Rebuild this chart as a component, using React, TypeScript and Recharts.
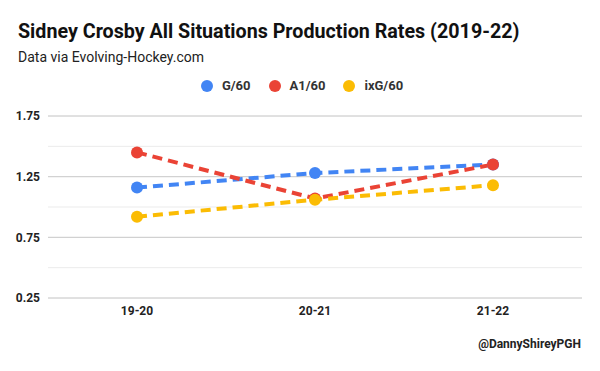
import { LineChart, Line, XAxis, YAxis, CartesianGrid, ReferenceLine } from "recharts";

const seasons = ["19-20", "20-21", "21-22"];
const goals60 = [1.16, 1.28, 1.35];
const primaryAssists60 = [1.45, 1.07, 1.35];
const ixG60 = [0.92, 1.06, 1.18];
const yTicks = [0.25, 0.5, 0.75, 1.0, 1.25, 1.5, 1.75];
const majorTicks = [0.25, 0.75, 1.25, 1.75];

const series = [
    { key: "g", name: "G/60", color: "#4285F4" },
    { key: "a1", name: "A1/60", color: "#EA4335" },
    { key: "ixg", name: "ixG/60", color: "#FBBC04" },
];

const data = seasons.map((s, i) => ({
    season: s,
    g: goals60[i],
    a1: primaryAssists60[i],
    ixg: ixG60[i],
}));

const font = "Roboto, sans-serif";

export default function App() {
    return (
        <div style={{ position: "absolute", left: 0, top: 0, width: 600, height: 371, background: "#fff", fontFamily: font }}>
            <div style={{ position: "absolute", left: 18, top: 20, fontSize: 19.7, fontWeight: 700, color: "#111" }}>
                Sidney Crosby All Situations Production Rates (2019-22)
            </div>
            <div style={{ position: "absolute", left: 18, top: 49, fontSize: 14, color: "#222" }}>
                Data via Evolving-Hockey.com
            </div>
            <div style={{ position: "absolute", left: 2, top: 78, width: 600, display: "flex", justifyContent: "center", gap: 18, fontSize: 13, fontWeight: 700, color: "#333" }}>
                {series.map((s) => (
                    <div key={s.key} style={{ display: "flex", alignItems: "center" }}>
                        <span style={{ width: 12, height: 12, borderRadius: "50%", background: s.color, display: "inline-block", marginRight: 9 }} />
                        {s.name}
                    </div>
                ))}
            </div>
            <div style={{ position: "absolute", right: 19, top: 337, fontSize: 12, fontWeight: 700, color: "#222" }}>
                @DannyShireyPGH
            </div>
            <LineChart width={600} height={371} data={data} margin={{ top: 116, right: 18, bottom: 43, left: 8 }}>
                <CartesianGrid vertical={false} stroke="#ebebeb" />
                {majorTicks.map((t) => (
                    <ReferenceLine key={t} y={t} stroke="#cccccc" />
                ))}
                <XAxis
                    dataKey="season"
                    axisLine={false}
                    tickLine={false}
                    padding={{ left: 89, right: 89 }}
                    height={30}
                    tick={{ fill: "#222", fontSize: 12, fontWeight: 700, fontFamily: font }}
                />
                <YAxis
                    domain={[0.25, 1.75]}
                    ticks={yTicks}
                    interval={0}
                    width={40}
                    axisLine={false}
                    tickLine={false}
                    tickFormatter={(v: number) => (majorTicks.includes(v) ? v.toFixed(2) : "")}
                    tick={{ fill: "#222", fontSize: 12, fontWeight: 700, fontFamily: font }}
                />
                {series.map((s) => (
                    <Line
                        key={s.key}
                        dataKey={s.key}
                        name={s.name}
                        stroke={s.color}
                        strokeWidth={4}
                        strokeDasharray="10 6"
                        dot={{ r: 6, fill: s.color, strokeWidth: 0 }}
                        isAnimationActive={false}
                    />
                ))}
            </LineChart>
        </div>
    );
}
